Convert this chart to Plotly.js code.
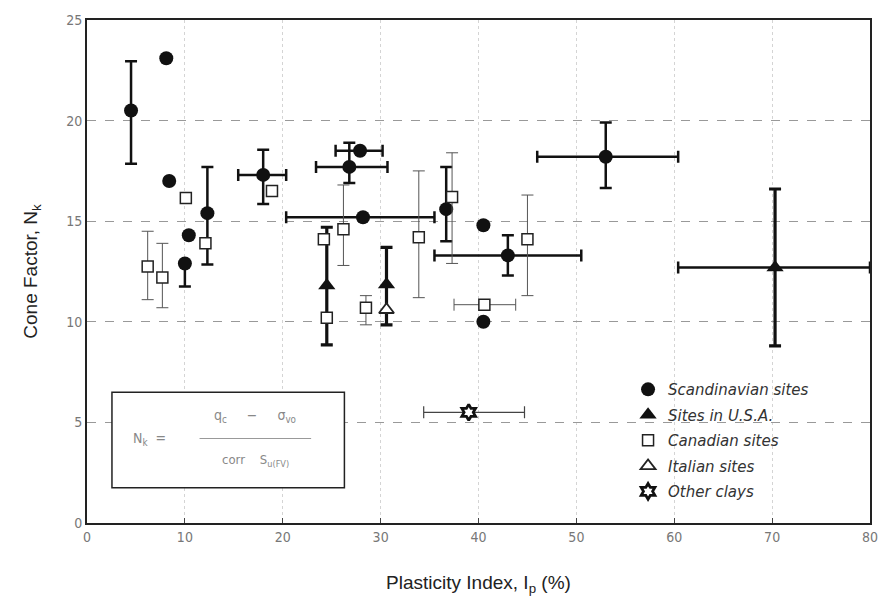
<!DOCTYPE html>
<html>
<head>
<meta charset="utf-8">
<script src="https://cdn.plot.ly/plotly-3.0.1.min.js"></script>
<style>html,body{margin:0;padding:0;background:#fff;}#chart{width:884px;height:610px;}</style>
</head>
<body>
<div id="chart"></div>
<script>
// ---- Data ----
// Scandinavian sites (filled circles)
const scanX      = [4.5, 8.1, 8.4, 10.4, 10.0, 12.3, 18.0, 26.8, 27.9, 28.2, 36.7, 40.5, 43.0, 40.5, 53.0];
const scanY      = [20.5, 23.1, 17.0, 14.3, 12.9, 15.4, 17.3, 17.7, 18.5, 15.2, 15.6, 14.8, 13.3, 10.0, 18.2];
const scanYplus  = [2.45, null, null, null, 0, 2.3, 1.25, 1.2, null, null, 2.1, null, 1.0, null, 1.7];
const scanYminus = [2.65, null, null, null, 1.15, 2.55, 1.45, 0.8, null, null, 1.6, null, 1.0, null, 1.55];
const scanXplus  = [null, null, null, null, null, null, 2.35, 3.9, 2.3, 7.3, null, null, 7.5, null, 7.4];
const scanXminus = [null, null, null, null, null, null, 2.55, 3.4, 2.5, 7.85, null, null, 7.5, null, 7.0];

// Sites in U.S.A. (filled triangles)
const usaX      = [24.5, 30.6, 70.3];
const usaY      = [11.8, 11.85, 12.7];
const usaYplus  = [2.9, 1.85, 3.9];
const usaYminus = [2.95, 2.0, 3.9];
const usaXplus  = [null, null, 9.7];
const usaXminus = [null, null, 9.9];

// Canadian sites (open squares)
const canX      = [6.2, 7.7, 10.1, 12.1, 18.9, 24.2, 24.5, 26.2, 28.5, 33.9, 37.3, 40.6, 45.0];
const canY      = [12.75, 12.2, 16.15, 13.9, 16.5, 14.1, 10.2, 14.6, 10.7, 14.2, 16.2, 10.85, 14.1];
const canYplus  = [1.75, 1.7, null, null, null, null, null, 2.2, 0.6, 3.3, 2.2, null, 2.2];
const canYminus = [1.65, 1.5, null, null, null, null, null, 1.8, 0.85, 3.0, 3.3, null, 2.8];
const canXplus  = [null, null, null, null, null, null, null, null, null, null, null, 3.2, null];
const canXminus = [null, null, null, null, null, null, null, null, null, null, null, 3.1, null];

// Italian sites (open triangles)
const itaX = [30.6];
const itaY = [10.6];

// Other clays (star)
const othX      = [39.0];
const othY      = [5.5];
const othXplus  = [5.7];
const othXminus = [4.6];

const seriesNames = ['Scandinavian sites', 'Sites in U.S.A.', 'Canadian sites', 'Italian sites', 'Other clays'];
const xTicks = [0, 10, 20, 30, 40, 50, 60, 70, 80];
const yTicks = [0, 5, 10, 15, 20, 25];

// ---- helpers ----
const nz = a => a.map(v => (v === null || v === undefined) ? NaN : v);
function errY(plus, minus, thick, color) {
  return {type: 'data', symmetric: false, array: nz(plus), arrayminus: nz(minus),
          color: color, thickness: thick, width: 6, visible: true};
}

const traces = [
  {
    x: scanX, y: scanY, name: seriesNames[0], type: 'scatter', mode: 'markers',
    marker: {symbol: 'circle', size: 14, color: '#111'},
    error_y: errY(scanYplus, scanYminus, 2.5, '#111'),
    error_x: errY(scanXplus, scanXminus, 2.5, '#111'),
    legendgroup: 'a'
  },
  {
    x: usaX, y: usaY, name: seriesNames[1], type: 'scatter', mode: 'markers',
    marker: {symbol: 'triangle-up', size: 15, color: '#111'},
    error_y: errY(usaYplus, usaYminus, 3.2, '#111'),
    error_x: errY(usaXplus, usaXminus, 2.5, '#111'),
    legendgroup: 'b'
  },
  {
    x: canX, y: canY, name: seriesNames[2], type: 'scatter', mode: 'markers',
    marker: {symbol: 'square', size: 11, color: '#fff', line: {color: '#222', width: 1.5}},
    error_y: errY(canYplus, canYminus, 1, '#555'),
    error_x: errY(canXplus, canXminus, 1, '#555'),
    legendgroup: 'c'
  },
  {
    x: itaX, y: itaY, name: seriesNames[3], type: 'scatter', mode: 'markers',
    marker: {symbol: 'triangle-up', size: 13, color: '#fff', line: {color: '#222', width: 1.8}},
    legendgroup: 'd'
  },
  {
    x: othX, y: othY, name: seriesNames[4], type: 'scatter', mode: 'markers',
    marker: {symbol: 'hexagram', size: 12, color: '#fff', line: {color: '#111', width: 2.8}},
    error_x: errY(othXplus, othXminus, 1.2, '#444'),
    legendgroup: 'e'
  }
];

const tickFont = {family: 'DejaVu Sans Condensed, DejaVu Sans, sans-serif', size: 14, color: '#777'};

const layout = {
  width: 884, height: 610,
  margin: {l: 87, r: 14, t: 20, b: 87},
  paper_bgcolor: '#fff', plot_bgcolor: '#fff',
  showlegend: true,
  legend: {
    x: 0.691, y: 0.298, xanchor: 'left', yanchor: 'top',
    bgcolor: 'rgba(0,0,0,0)', borderwidth: 0,
    font: {family: 'DejaVu Sans, sans-serif', size: 15, color: '#333', style: 'italic'},
    tracegroupgap: 3
  },
  xaxis: {
    range: [0, 80], tickvals: xTicks, ticktext: xTicks.map(String),
    showgrid: true, gridcolor: '#d4d4d4', gridwidth: 1, griddash: 'dot',
    zeroline: false, showline: true, linecolor: '#222', linewidth: 2, mirror: true,
    ticks: 'inside', ticklen: 5, tickcolor: '#444',
    tickfont: tickFont,
    title: {text: 'Plasticity Index, I<sub>p</sub> (%)', standoff: 32,
            font: {family: 'Liberation Sans, Arial, sans-serif', size: 19, color: '#222'}}
  },
  yaxis: {
    range: [0, 25], tickvals: yTicks, ticktext: yTicks.map(String),
    showgrid: true, gridcolor: '#999', gridwidth: 1, griddash: 'dash',
    zeroline: false, showline: true, linecolor: '#222', linewidth: 2, mirror: true,
    ticks: '', tickfont: tickFont,
    title: {text: 'Cone Factor, N<sub>k</sub>', standoff: 24,
            font: {family: 'Liberation Sans, Arial, sans-serif', size: 19, color: '#222'}}
  },
  shapes: [
    {type: 'rect', xref: 'x', yref: 'y', x0: 2.55, x1: 26.3, y0: 1.75, y1: 6.5,
     line: {color: '#222', width: 1.5}, fillcolor: '#fff', layer: 'above'},
    {type: 'line', xref: 'x', yref: 'y', x0: 11.5, x1: 22.9, y0: 4.2, y1: 4.2,
     line: {color: '#999', width: 1}, layer: 'above'}
  ],
  annotations: [
    {xref: 'x', yref: 'y', x: 6.4, y: 4.2, text: 'N<sub>k</sub>  =', showarrow: false,
     font: {family: 'DejaVu Sans Condensed, sans-serif', size: 14, color: '#888'}},
    {xref: 'x', yref: 'y', x: 17.2, y: 5.3, text: 'q<sub>c</sub>     −     σ<sub>vo</sub>', showarrow: false,
     font: {family: 'DejaVu Sans Condensed, sans-serif', size: 14, color: '#888'}},
    {xref: 'x', yref: 'y', x: 17.2, y: 3.1, text: 'corr    S<sub>u(FV)</sub>', showarrow: false,
     font: {family: 'DejaVu Sans Condensed, sans-serif', size: 13, color: '#888'}}
  ]
};

Plotly.newPlot('chart', traces, layout, {displayModeBar: false, staticPlot: true});
</script>
</body>
</html>
